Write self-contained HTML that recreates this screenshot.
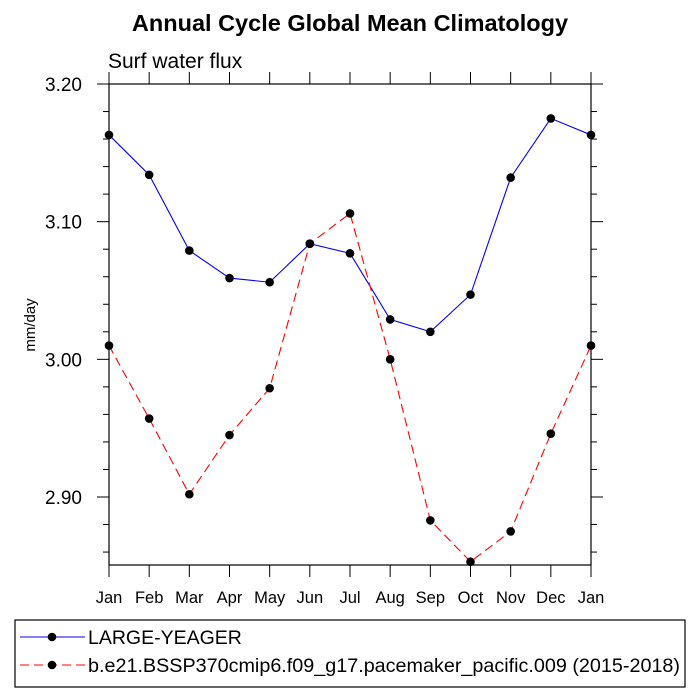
<!DOCTYPE html>
<html><head><meta charset="utf-8"><style>body{margin:0;background:#fff}svg{display:block;font-family:"Liberation Sans",sans-serif}</style></head>
<body>
<svg id="c" width="700" height="700"></svg>
<script>
const months=["Jan","Feb","Mar","Apr","May","Jun","Jul","Aug","Sep","Oct","Nov","Dec","Jan"];
const blueVals=[3.163,3.134,3.079,3.059,3.056,3.084,3.077,3.029,3.020,3.047,3.132,3.175,3.163];
const redVals=[3.010,2.957,2.902,2.945,2.979,3.084,3.106,3.000,2.883,2.853,2.875,2.946,3.010];
const yTicks=[2.90,3.00,3.10,3.20];
const yTickLabels=["2.90","3.00","3.10","3.20"];
const L=109,R=591,T=84,B=565,yMin=2.8506,yMax=3.20;
const xs=i=>L+(R-L)*i/(months.length-1);
const ys=v=>B-(v-yMin)/(yMax-yMin)*(B-T);
const svg=document.getElementById('c');const NS="http://www.w3.org/2000/svg";
function mk(t,a,p){const e=document.createElementNS(NS,t);for(const k in a)e.setAttribute(k,a[k]);(p||svg).appendChild(e);return e;}
let e;
e=mk('text',{x:350,y:31,'text-anchor':'middle','font-size':23.5,'font-weight':'bold'});e.textContent="Annual Cycle Global Mean Climatology";


e=mk('text',{x:108,y:68,'font-size':21});e.textContent="Surf water flux";


e=mk('text',{x:35,y:325,'font-size':15,'text-anchor':'middle',transform:'rotate(-90 35 325)'});e.textContent="mm/day";


e=mk('rect',{x:L,y:T,width:R-L,height:B-T,fill:'none',stroke:'#000','stroke-width':1.2});


for(let v=2.86;v<=3.2001;v+=0.02){const y=ys(v);const major=Math.abs(v*10-Math.round(v*10))<1e-6;const len=major?12:6;
mk('line',{x1:L,x2:L-len,y1:y,y2:y,stroke:'#000'});mk('line',{x1:R,x2:R+len,y1:y,y2:y,stroke:'#000'});}
yTicks.forEach((v,i)=>{e=mk('text',{x:82,y:ys(v)+7,'text-anchor':'end','font-size':19});e.textContent=yTickLabels[i];

});
months.forEach((m,i)=>{const x=xs(i);mk('line',{x1:x,x2:x,y1:B,y2:B+12,stroke:'#000'});mk('line',{x1:x,x2:x,y1:T,y2:T-12,stroke:'#000'});
e=mk('text',{x:x,y:603,'text-anchor':'middle','font-size':16.5});e.textContent=m;

});
function series(vals,color,dash,name){
const g=mk('g',{});


mk('polyline',{points:vals.map((v,i)=>xs(i)+','+ys(v)).join(' '),fill:'none',stroke:color,'stroke-width':1.1,'stroke-dasharray':dash||'none'},g);
vals.forEach((v,i)=>{const c=mk('circle',{cx:xs(i),cy:ys(v),r:4.3,fill:'#000'},g);

});}
series(blueVals,'#0000ff',null,'series-large-yeager');
series(redVals,'#ff0000','9,5','series-pacemaker');
e=mk('rect',{x:15,y:620,width:670,height:67,fill:'none',stroke:'#000','stroke-width':1.2});


const leg=[["LARGE-YEAGER","#0000ff",null,637,null],["b.e21.BSSP370cmip6.f09_g17.pacemaker_pacific.009 (2015-2018)","#ff0000","9,5",665,592]];
leg.forEach(l=>{mk('line',{x1:20,x2:85,y1:l[3],y2:l[3],stroke:l[1],'stroke-dasharray':l[2]||'none'});mk('circle',{cx:52,cy:l[3],r:4.3,fill:'#000'});
const a={x:88,y:l[3]+7,'font-size':19.5};if(l[4]){a.textLength=l[4];a.lengthAdjust='spacingAndGlyphs';}
e=mk('text',a);e.textContent=l[0];

});
</script>
</body></html>
